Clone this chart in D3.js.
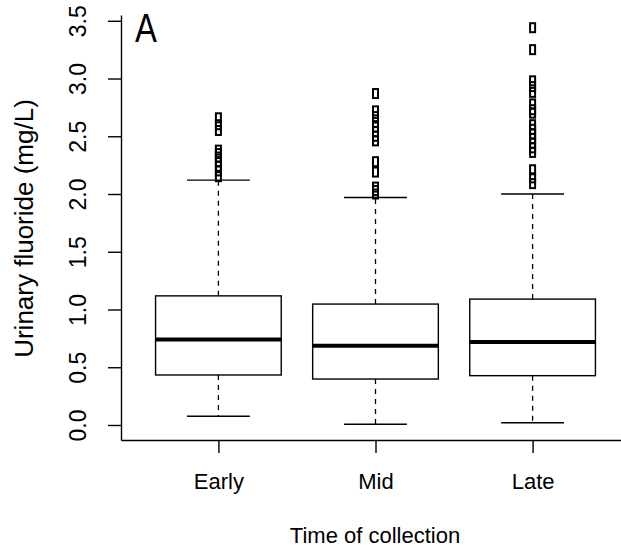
<!DOCTYPE html>
<html>
<head>
<meta charset="utf-8">
<script src="https://cdn.jsdelivr.net/npm/d3@7"></script>
<style>
  html, body { margin: 0; padding: 0; background: #fff; }
  svg { display: block; font-family: "Liberation Sans", Arial, sans-serif; }
</style>
</head>
<body>
<svg id="chart" width="621" height="554"></svg>
<script>
// ---- data ----
const categories = ["Early", "Mid", "Late"];
const q1 = [0.433, 0.398, 0.427];
const medians = [0.741, 0.686, 0.718];
const q3 = [1.118, 1.047, 1.090];
const whiskerLow = [0.075, 0.006, 0.02];
const whiskerHigh = [2.12, 1.97, 2.00];
const outliersEarly = [2.66, 2.60, 2.55, 2.38, 2.35, 2.32, 2.28, 2.24, 2.20, 2.15];
const outliersMid = [2.87, 2.72, 2.67, 2.62, 2.58, 2.54, 2.50, 2.46, 2.28, 2.19, 2.06, 2.03, 2.00];
const outliersLate = [3.44, 3.25, 2.98, 2.93, 2.88, 2.78, 2.73, 2.70, 2.60, 2.56, 2.52, 2.48, 2.44, 2.40, 2.36, 2.21, 2.14, 2.09];
const yTicks = [0, 0.5, 1.0, 1.5, 2.0, 2.5, 3.0, 3.5];
const panelLabel = "A";
const yTitle = "Urinary fluoride (mg/L)";
const xTitle = "Time of collection";

const outliers = [outliersEarly, outliersMid, outliersLate];
const groups = categories.map((c, i) => ({
  name: c, pos: i + 1, q1: q1[i], med: medians[i], q3: q3[i],
  lo: whiskerLow[i], hi: whiskerHigh[i], out: outliers[i]
}));

// ---- layout ----
const svg = d3.select("#chart");
const x = d3.scaleLinear().domain([0.38, 3.62]).range([121, 630]);
const y = d3.scaleLinear().domain([-0.13, 3.55]).range([440, 15]);
const boxW = 0.8;
const capW = 0.4;
const fontSize = 22;

// y axis
const yAxis = svg.append("g")
  .attr("transform", `translate(${x.range()[0]},0)`)
  .call(d3.axisLeft(y).tickValues(yTicks).tickFormat(d3.format(".1f"))
        .tickSize(13).tickSizeOuter(0));
yAxis.selectAll("text")
  .attr("x", 0).attr("y", -35).attr("dy", 0)
  .attr("transform", "rotate(-90)")
  .attr("text-anchor", "middle")
  .style("font-size", "23px")
  .style("font-family", "'Liberation Sans', Arial, sans-serif")
  .attr("fill", "#000");

// x axis
const xAxis = svg.append("g")
  .attr("transform", `translate(0,${y.range()[0]})`)
  .call(d3.axisBottom(x).tickValues(groups.map(g => g.pos))
        .tickFormat((d, i) => categories[i]).tickSize(13).tickSizeOuter(0));
xAxis.selectAll("text")
  .attr("y", 49).attr("dy", 0)
  .style("font-size", fontSize + "px")
  .style("font-family", "'Liberation Sans', Arial, sans-serif")
  .attr("fill", "#000");

svg.selectAll(".domain, .tick line").attr("stroke", "#000").attr("stroke-width", 1.4);

// boxes
const g = svg.append("g");
groups.forEach(d => {
  const cx = x(d.pos);
  const bx0 = x(d.pos - boxW / 2), bx1 = x(d.pos + boxW / 2);
  const cx0 = x(d.pos - capW / 2), cx1 = x(d.pos + capW / 2);
  // whiskers
  g.append("line").attr("x1", cx).attr("x2", cx).attr("y1", y(d.q3)).attr("y2", y(d.hi))
    .attr("stroke", "#000").attr("stroke-width", 1.3).attr("stroke-dasharray", "5,5");
  g.append("line").attr("x1", cx).attr("x2", cx).attr("y1", y(d.q1)).attr("y2", y(d.lo))
    .attr("stroke", "#000").attr("stroke-width", 1.3).attr("stroke-dasharray", "5,5");
  // caps
  [d.hi, d.lo].forEach(v => {
    g.append("line").attr("x1", cx0).attr("x2", cx1).attr("y1", y(v)).attr("y2", y(v))
      .attr("stroke", "#000").attr("stroke-width", 1.4);
  });
  // box
  g.append("rect").attr("x", bx0).attr("y", y(d.q3))
    .attr("width", bx1 - bx0).attr("height", y(d.q1) - y(d.q3))
    .attr("fill", "#fff").attr("stroke", "#000").attr("stroke-width", 1.4);
  // median
  g.append("line").attr("x1", bx0).attr("x2", bx1).attr("y1", y(d.med)).attr("y2", y(d.med))
    .attr("stroke", "#000").attr("stroke-width", 4);
  // outliers
  g.selectAll(null).data(d.out).enter().append("rect")
    .attr("x", cx - 2.5).attr("y", v => y(v) - 4.5)
    .attr("width", 5).attr("height", 9)
    .attr("fill", "none").attr("stroke", "#000").attr("stroke-width", 2);
});

// titles
svg.append("text")
  .attr("transform", `translate(33,${(y.range()[0] + y.range()[1]) / 2 + 1}) rotate(-90)`)
  .attr("text-anchor", "middle")
  .style("font-size", "26px")
  .text(yTitle);

svg.append("text")
  .attr("x", 375).attr("y", 543)
  .attr("text-anchor", "middle")
  .style("font-size", fontSize + "px")
  .text(xTitle);

svg.append("text")
  .attr("transform", "translate(135,42) scale(0.82,1)")
  .style("font-size", "40px")
  .text(panelLabel);
</script>
</body>
</html>
